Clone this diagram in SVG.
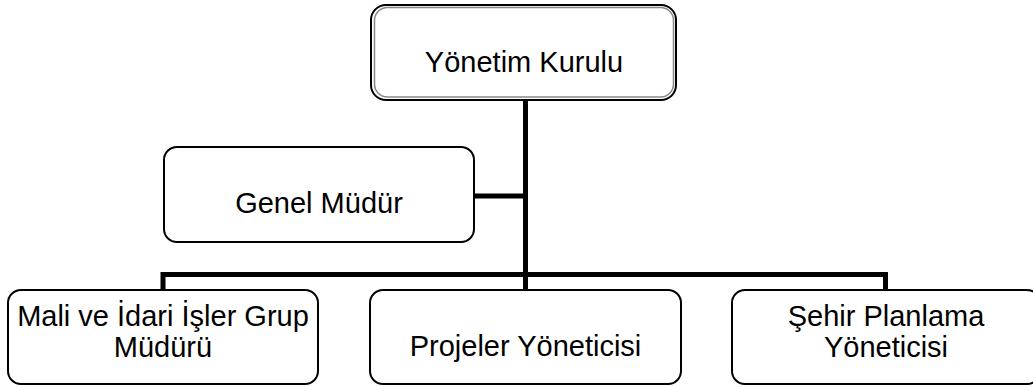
<svg xmlns="http://www.w3.org/2000/svg" width="1033" height="387" viewBox="0 0 1033 387">
<style>
.box{fill:#fff;stroke:#000;stroke-width:2}
.inner{fill:none;stroke:#888;stroke-width:1.5}
.conn{fill:none;stroke:#000;stroke-width:5}
text{font-family:"Liberation Sans",Arial,sans-serif;font-size:29px;fill:#000;text-anchor:middle}
</style>
<rect width="1033" height="387" fill="#fff"/>
<g id="connectors">
<path class="conn" d="M525.5,100 V290"/>
<path class="conn" d="M474,196 H525.5"/>
<path class="conn" d="M163,290 V274.5 H885.5 V290"/>
</g>
<g id="yonetim-kurulu">
<rect class="box" x="371" y="5" width="305" height="95" rx="15"/>
<rect class="inner" x="374.5" y="7.5" width="299" height="89.5" rx="13"/>
<text x="524" y="72">Yönetim Kurulu</text>
</g>
<g id="genel-mudur">
<rect class="box" x="164" y="147" width="310" height="95" rx="13"/>
<text x="319" y="213">Genel Müdür</text>
</g>
<g id="mali-idari">
<rect class="box" x="8" y="290" width="310" height="94" rx="13"/>
<text x="163" y="326">Mali ve İdari İşler Grup</text>
<text x="163" y="357">Müdürü</text>
</g>
<g id="projeler">
<rect class="box" x="370" y="290" width="311" height="94" rx="13"/>
<text x="525.5" y="356">Projeler Yöneticisi</text>
</g>
<g id="sehir-planlama">
<rect class="box" x="732" y="290" width="308" height="94" rx="13"/>
<text x="886" y="326">Şehir Planlama</text>
<text x="886" y="357">Yöneticisi</text>
</g>
</svg>
